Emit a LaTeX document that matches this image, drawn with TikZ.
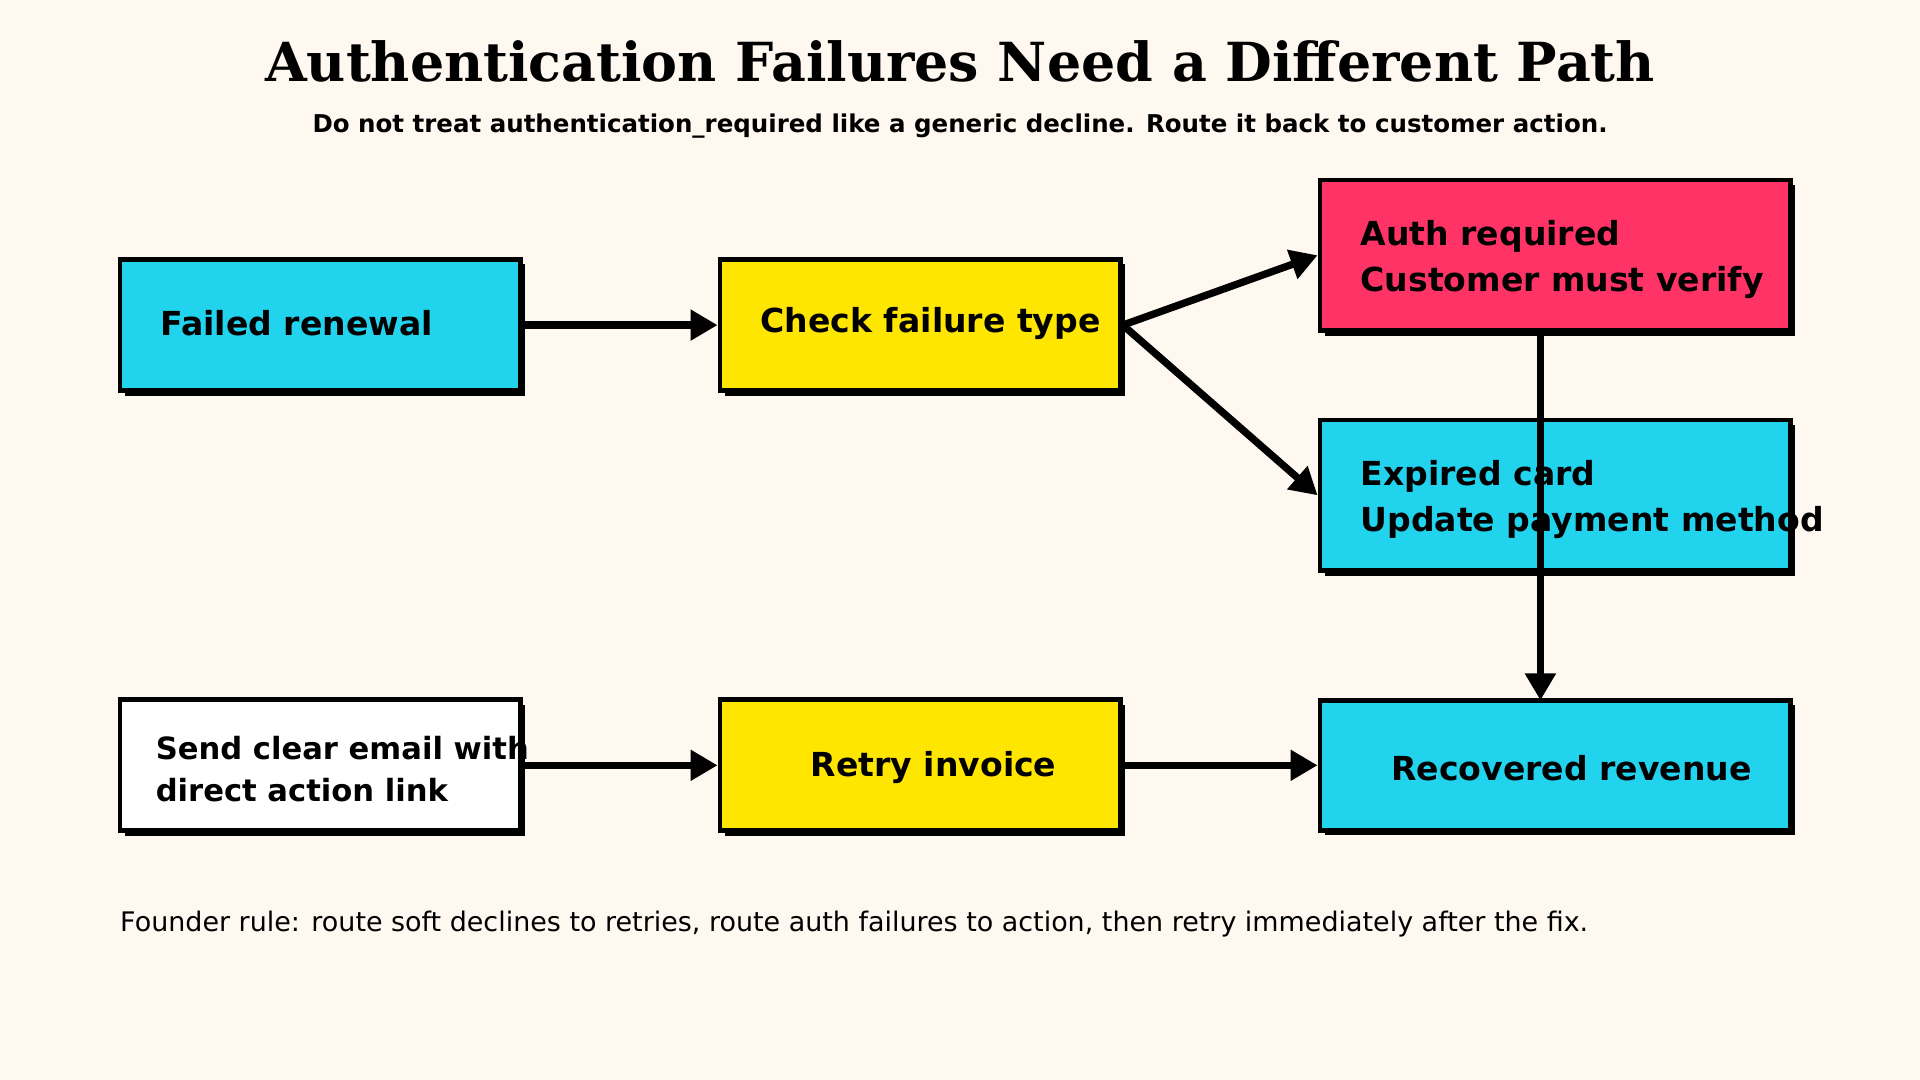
\documentclass[tikz,border=0pt]{standalone}
\usepackage{fontspec}
\setmainfont{DejaVu Sans}
\newfontfamily\titlefont{DejaVu Serif}
\usetikzlibrary{arrows.meta,shadows}
\definecolor{bg}{HTML}{FFF8F0}
\definecolor{cy}{HTML}{22D3EE}
\definecolor{ye}{HTML}{FFE600}
\definecolor{rd}{HTML}{FF3366}
\begin{document}
\begin{tikzpicture}[x=1pt,y=-1pt,
 box/.style={draw=black,line width=4pt,minimum width=327pt,minimum height=107pt,inner sep=0pt,
   drop shadow={shadow xshift=4pt,shadow yshift=-4pt,opacity=1,fill=black}},
 tall/.style={box,minimum width=384pt,minimum height=123pt},
 lbl/.style={anchor=west,align=left,font=\fontsize{27}{37}\selectfont\bfseries,inner sep=0pt},
 arr/.style={line width=6pt,-{Triangle[length=22pt,width=24pt]}}]
\fill[bg] (0,0) rectangle (1568,882);
\useasboundingbox (0,0) rectangle (1568,882);
\node[font=\titlefont\fontsize{44}{50}\selectfont\bfseries] (title) at (784,50) {Authentication Failures Need a Different Path};
\node[font=\fontsize{20}{24}\selectfont\bfseries] (sub) at (784,103) {Do not treat authentication\_required like a generic decline. Route it back to customer action.};
\node[box,fill=cy] (fr) at (261.5,265.5) {};
\node[box,fill=ye] (cf) at (751.5,265.5) {};
\node[tall,fill=rd] (ar) at (1270,208.5) {};
\node[tall,fill=cy] (ec) at (1270,404.5) {};
\node[box,fill=white] (se) at (261.5,625) {};
\node[box,fill=ye] (ri) at (751.5,625) {};
\node[tall,fill=cy,minimum height=106pt] (rr) at (1270,625) {};
\node[lbl] (t1) at (131,264) {Failed renewal};
\node[lbl] (t2) at (621,264) {Check failure type};
\node[lbl] (t3) at (1111,212) {Auth required\\Customer must verify};
\node[lbl] (t4) at (1111,408) {Expired card\\Update payment method};
\node[lbl,font=\fontsize{25}{34}\selectfont\bfseries] (t5) at (127,628) {Send clear email with\\direct action link};
\node[lbl] (t6) at (662,627) {Retry invoice};
\node[lbl] (t7) at (1136,627) {Recovered revenue};
\node[anchor=west,font=\fontsize{22}{26}\selectfont,inner sep=0pt] (foot) at (98,755) {Founder rule: route soft declines to retries, route auth failures to action, then retry immediately after the fix.};
\draw[arr] (fr.east) -- (cf.west);
\draw[arr] (cf.east) -- (ar.west);
\draw[arr] (cf.east) -- (ec.west);
\draw[arr] (1258,270) -- (1258,572);
\draw[arr] (se.east) -- (ri.west);
\draw[arr] (ri.east) -- (rr.west);
\end{tikzpicture}
\end{document}
